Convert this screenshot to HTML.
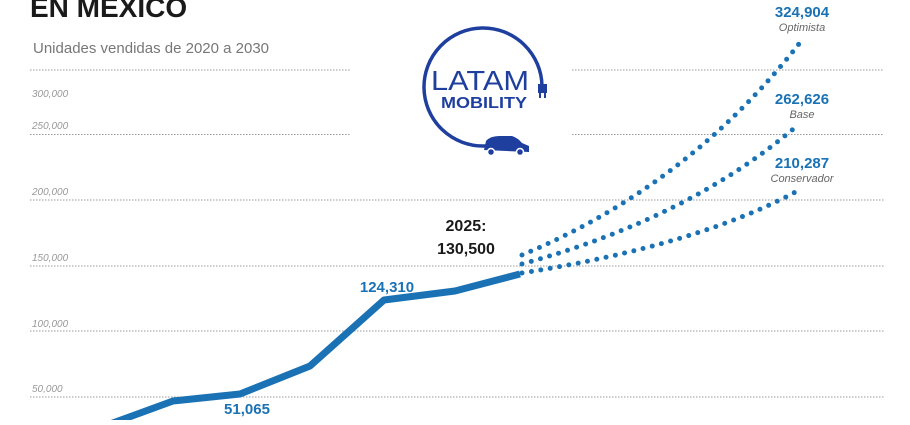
<!DOCTYPE html>
<html><head><meta charset="utf-8"><style>
body{margin:0;background:#fff;width:910px;height:420px;overflow:hidden;font-family:"Liberation Sans",sans-serif}
</style></head><body>
<svg width="910" height="420" viewBox="0 0 910 420" xmlns="http://www.w3.org/2000/svg" font-family="Liberation Sans, sans-serif">
<text x="30" y="17" font-size="28" font-weight="bold" fill="#1a1a1a">EN MEXICO</text>
<text x="33" y="53" font-size="15" fill="#777">Unidades vendidas de 2020 a 2030</text>
<g stroke="#999" stroke-width="1" stroke-dasharray="1.5 1.5">
<line x1="30" y1="70" x2="351" y2="70"/><line x1="572" y1="70" x2="884" y2="70"/>
<line x1="30" y1="134.5" x2="351" y2="134.5"/><line x1="572" y1="134.5" x2="884" y2="134.5"/>
<line x1="30" y1="200" x2="884" y2="200"/>
<line x1="30" y1="266" x2="884" y2="266"/>
<line x1="30" y1="331" x2="884" y2="331"/>
<line x1="30" y1="397" x2="884" y2="397"/>
</g>
<g font-size="10" font-style="italic" fill="#999">
<text x="32" y="97">300,000</text><text x="32" y="129">250,000</text>
<text x="32" y="195">200,000</text><text x="32" y="261">150,000</text>
<text x="32" y="327">100,000</text><text x="32" y="392">50,000</text>
</g>
<polyline points="110,424 173,401 240,394 310,366 384,300 455,291 520,274" fill="none" stroke="#1a72b5" stroke-width="7" stroke-linejoin="round"/>
<g fill="none" stroke="#1a72b5" stroke-width="5" stroke-linecap="round" stroke-dasharray="0 9.5">
<path d="M522,255 Q690,185 802,40"/>
<path d="M522,264 Q690,218 798,125"/>
<path d="M522,273 Q700,245 801,189"/>
</g>
<g font-weight="bold" fill="#1a72b5" text-anchor="middle" font-size="15">
<text x="387" y="292">124,310</text>
<text x="247" y="414">51,065</text>
<text x="802" y="17">324,904</text>
<text x="802" y="104">262,626</text>
<text x="802" y="168">210,287</text>
</g>
<g font-style="italic" fill="#666" text-anchor="middle" font-size="11">
<text x="802" y="31">Optimista</text>
<text x="802" y="118">Base</text>
<text x="802" y="182">Conservador</text>
</g>
<g font-weight="bold" fill="#1a1a1a" text-anchor="middle" font-size="16">
<text x="466" y="231">2025:</text>
<text x="466" y="254">130,500</text>
</g>
<g stroke="#1f3f9e" fill="none" stroke-width="3.5">
<path d="M484,146 A59,59 0 1 1 542,86"/>
<path d="M484,146 L498,146"/>
</g>
<rect x="538" y="84" width="9" height="9" fill="#1f3f9e"/>
<rect x="539" y="93" width="2" height="5" fill="#1f3f9e"/><rect x="544" y="93" width="2" height="5" fill="#1f3f9e"/>
<path d="M484,150 L486,141 Q490,136 500,136 L512,136 Q518,138 522,143 L529,146 L529,152 Z" fill="#1f3f9e"/>
<circle cx="491" cy="152" r="3.5" fill="#1f3f9e" stroke="#fff" stroke-width="1.5"/>
<circle cx="520" cy="152" r="3.5" fill="#1f3f9e" stroke="#fff" stroke-width="1.5"/>
<text x="431" y="90" font-size="28" fill="#1f3f9e" textLength="98" lengthAdjust="spacingAndGlyphs">LATAM</text>
<text x="441" y="108" font-size="16" font-weight="bold" fill="#1f3f9e" textLength="86" lengthAdjust="spacingAndGlyphs">MOBILITY</text>
</svg>
</body></html>
